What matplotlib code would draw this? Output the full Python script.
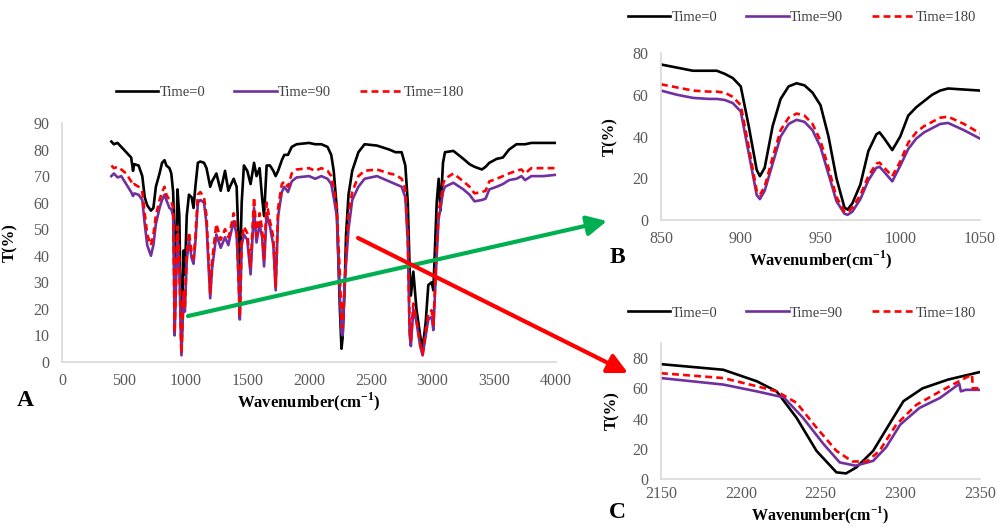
import matplotlib
matplotlib.use("Agg")
import matplotlib.pyplot as plt

# ---- panel A : full spectrum 400-4000 cm-1 ----
wn_a = [400, 420, 450, 480, 520, 560, 575, 585, 620, 650, 670, 690, 720, 740, 760, 790,
        810, 830, 845, 870, 885, 900, 905, 912, 918, 935, 950, 967, 985, 995, 1010, 1028,
        1050, 1065, 1080, 1100, 1120, 1150, 1170, 1200, 1215, 1250, 1285, 1320, 1347, 1360,
        1390, 1414, 1430, 1440, 1455, 1473, 1500, 1527, 1555, 1575, 1600, 1620, 1636, 1657,
        1684, 1711, 1730, 1750, 1780, 1800, 1830, 1860, 1900, 2000, 2050, 2100, 2150, 2180,
        2200, 2225, 2250, 2263, 2272, 2290, 2300, 2320, 2350, 2400, 2450, 2550, 2650, 2700,
        2750, 2780, 2800, 2815, 2825, 2845, 2870, 2900, 2920, 2945, 2966, 2993, 3007, 3034,
        3050, 3065, 3085, 3101, 3169, 3250, 3300, 3340, 3400, 3430, 3460, 3520, 3570, 3620,
        3680, 3720, 3750, 3800, 3900, 4000]
t0_a = [83, 82, 82.5, 81, 79, 77, 72, 74.5, 74, 70, 62, 59, 57, 58, 66, 71,
        75, 76, 74, 73, 71, 64, 55, 20, 30, 65, 55, 4.5, 42, 33, 55, 63,
        62, 58, 66, 75, 75.5, 75, 73, 66, 68, 71, 64.5, 72, 64.5, 66,
        69, 66, 45, 32, 60, 74, 72, 67, 75, 70, 73, 62, 55, 74,
        74, 72, 70, 72, 76, 78, 78, 81, 82, 82.5, 82, 82, 81, 78,
        72, 58, 20, 5, 9, 30, 48, 63, 72, 79, 82, 81.5, 80, 79,
        79, 74, 60, 35, 25, 34, 20, 10, 5, 15, 29, 30, 27, 60,
        69, 57, 75, 79, 79.5, 76.5, 74.5, 73.5, 72.5, 73.5, 75, 76.5, 77, 80,
        82, 82, 82, 82.5, 82.5, 82.5]
t90_a = [70, 71, 69.5, 70, 67, 64, 62.5, 63.5, 63, 61, 52, 44, 40, 44, 52, 58,
         61, 63, 61, 58, 57.5, 55, 40, 10, 20, 48, 35, 2.5, 25, 19, 38, 46,
         39, 37, 45, 60, 61, 60, 52, 24, 35, 48, 43, 47, 44, 47,
         53, 48, 30, 16, 44, 48, 46, 33, 58, 45, 52, 47, 36, 56,
         51, 44, 27, 55, 64, 66, 64, 68, 69.5, 70, 69, 70, 69, 67,
         62, 55, 25, 11, 10, 30, 37, 50, 61, 66, 69, 70, 68, 67,
         66, 62, 45, 10, 6, 20, 15, 6, 2.5, 10, 16, 17, 12, 40,
         54, 58, 64, 66, 67.5, 65, 63, 60.5, 61, 61.5, 65, 66, 67, 68.5,
         69, 70, 68.5, 70, 70, 70.5]
t180_a = [74, 73, 73.5, 72.5, 71, 68, 66.5, 67, 66, 64, 56, 48, 44, 48, 55, 61,
          64, 66, 63, 61, 60.5, 58, 44, 11, 23, 51, 38, 3, 27, 21, 41, 49,
          41, 39, 47, 63, 64, 62, 55, 26, 38, 52, 46, 50, 47, 49,
          56, 50, 32, 17, 46, 51, 48.5, 36, 62, 47.5, 56, 50, 39, 60,
          53, 47, 28.5, 58, 67, 68, 66, 71, 72.5, 73, 72, 73, 72, 70,
          66, 58, 33, 16, 13, 30, 40, 56, 64, 70, 72, 72.5, 71, 70.5,
          69, 65, 48, 12, 8, 22, 16, 7, 3, 11, 18, 19.5, 14, 43,
          57, 60, 67, 69, 71, 68, 66, 63.5, 64, 64.5, 68, 69, 70, 71,
          72, 72.5, 71, 73, 73, 73]

# ---- panel B : 850-1050 cm-1 ----
wn_b = [850, 860, 870, 880, 885, 890, 895, 900, 905, 910, 912, 915, 920, 925, 930, 935,
        940, 945, 950, 955, 960, 965, 967, 970, 975, 980, 985, 987, 990, 995, 1000, 1005,
        1010, 1015, 1020, 1025, 1030, 1040, 1050]
t0_b = [74.5, 73, 71.5, 71.5, 71.5, 70, 68, 64, 45, 24, 21, 25, 45, 58, 64, 65.5,
        64.5, 61, 55, 40, 20, 6, 5, 8, 17, 33, 41, 42, 39, 33.5, 40, 50,
        54, 57, 60, 62, 63, 62.5, 62]
t90_b = [62, 60, 58.5, 58, 58, 57.5, 56, 52, 32, 12, 10, 14, 27, 40, 46, 48,
         47, 43, 35, 22, 9, 3, 2.5, 4, 10, 19, 25, 25.5, 23, 18.5, 26, 34,
         39, 42, 44, 46, 46.5, 43, 39]
t180_b = [65, 63.5, 62, 61.5, 61.5, 61, 59, 55, 35, 14, 12, 16, 30, 43, 49, 51,
          50, 46, 38, 25, 11, 4, 3.5, 6, 12, 21, 27, 27.5, 25, 21, 28, 37,
          42, 45, 47, 49, 49.5, 46, 41.5]

# ---- panel C : 2150-2350 cm-1 ----
wn_c0 = [2150, 2189, 2210, 2222.5, 2235, 2247.5, 2260, 2266, 2272.5, 2283, 2293, 2302,
         2314, 2330, 2350]
t0_c = [76, 72.3, 64.7, 58, 40.5, 18.6, 4.4, 3.7, 7.7, 18.6, 36, 51.5, 60, 65.8, 70.8]
wn_c90 = [2150, 2189, 2210, 2227, 2239, 2252, 2262, 2272, 2283, 2291, 2300, 2312, 2325,
          2335, 2337, 2338, 2341, 2350]
t90_c = [66.8, 62.5, 58, 54, 40.5, 23, 11, 8.8, 12, 20.8, 36, 47, 53.7, 61.4, 63, 58,
         59, 59]
wn_c180 = [2150, 2189, 2210, 2222.5, 2235, 2247.5, 2260, 2270, 2279, 2287, 2297.5, 2310,
           2325, 2341, 2345, 2345.5, 2350]
t180_c = [70, 66.8, 61.4, 58, 50.4, 34, 18.6, 11.6, 11.6, 18.6, 36, 49, 58, 67, 69, 60, 60]

labels = ["Time=0", "Time=90", "Time=180"]
colors = ["black", "#7030A0", "#FF0000"]
styles = ["-", "-", (0, (2.6, 1.6))]

plt.rcParams["font.family"] = ["Liberation Serif", "DejaVu Serif"]
plt.rcParams["mathtext.fontset"] = "custom"
plt.rcParams["mathtext.rm"] = "Liberation Serif:bold"
plt.rcParams["mathtext.bf"] = "Liberation Serif:bold"

XLABEL = "Wavenumber(cm$^{\\mathbf{-1}}$)"

fig = plt.figure(figsize=(9.97, 5.28), dpi=100)
W, H = 997, 528


def make_ax(left, right, top, bottom):
    return fig.add_axes([left / W, 1 - bottom / H, (right - left) / W, (bottom - top) / H])


def style_ax(ax, xlim, ylim, xticks, yticks, ylab_x, xlab_y, xpad=8, xlab_size=12):
    ax.set_xlim(*xlim)
    ax.set_ylim(*ylim)
    ax.set_xticks(xticks)
    ax.set_yticks(yticks)
    for s in ["top", "right"]:
        ax.spines[s].set_visible(False)
    for s in ["left", "bottom"]:
        ax.spines[s].set_color("#D9D9D9")
        ax.spines[s].set_linewidth(1.2)
    ax.tick_params(length=0, labelsize=11.5, labelcolor="#595959")
    ax.tick_params(axis="x", pad=xpad)
    ax.tick_params(axis="y", pad=9)
    ax.set_ylabel("T(%)", fontsize=12, fontweight="bold")
    ax.yaxis.set_label_coords(ylab_x, 0.5)
    ax.set_xlabel(XLABEL, fontsize=xlab_size, fontweight="bold", va="center")
    ax.xaxis.set_label_coords(0.5, xlab_y)


def draw(ax, series, leg_center):
    handles = []
    for (x, y), lab, c, ls in zip(series, labels, colors, styles):
        h, = ax.plot(x, y, color=c, ls=ls, lw=1.9, label=lab)
        handles.append(h)
    fig.legend(handles=handles, loc="center", ncol=3, frameon=False,
               bbox_to_anchor=(leg_center[0] / W, 1 - leg_center[1] / H),
               fontsize=10.5, handlelength=2.9, handletextpad=0.1, columnspacing=2.0,
               labelcolor="#404040")


# panel A
axA = make_ax(62, 556, 123, 362)
draw(axA, [(wn_a, t0_a), (wn_a, t90_a), (wn_a, t180_a)], (290, 92))
style_ax(axA, (0, 4000), (0, 90), range(0, 4001, 500), range(0, 91, 10), -0.089, -0.167)

# panel B
axB = make_ax(661, 980, 53, 220)
draw(axB, [(wn_b, t0_b), (wn_b, t90_b), (wn_b, t180_b)], (802, 17))
style_ax(axB, (850, 1050), (0, 80), range(850, 1051, 50), range(0, 81, 20), -0.135, -0.24)

# panel C
axC = make_ax(661, 980, 343, 479)
draw(axC, [(wn_c0, t0_c), (wn_c90, t90_c), (wn_c180, t180_c)], (802, 313))
style_ax(axC, (2150, 2350), (0, 90), range(2150, 2351, 50), range(0, 81, 20), -0.128, -0.27,
         xpad=5, xlab_size=11.5)

# panel letters
for txt, (px, py) in zip("ABC", [(25, 400), (617, 257), (617, 513)]):
    fig.text(px / W, 1 - py / H, txt, fontsize=17, fontweight="bold", ha="center", va="center")

# arrows from panel A to the zoomed panels
arrow_kw = dict(arrowstyle="-|>,head_length=1.0,head_width=0.5", mutation_scale=12,
                lw=3, shrinkA=0, shrinkB=0)
axA.annotate("", xy=(607 / W, 1 - 221 / H), xycoords="figure fraction",
             xytext=(1020, 17.3), textcoords="data", annotation_clip=False,
             arrowprops=dict(color="#00B050", **arrow_kw), zorder=10)
axA.annotate("", xy=(628 / W, 1 - 373 / H), xycoords="figure fraction",
             xytext=(2397, 46.7), textcoords="data", annotation_clip=False,
             arrowprops=dict(color="#FF0000", **arrow_kw), zorder=10)

fig.savefig("out.png", dpi=100)
